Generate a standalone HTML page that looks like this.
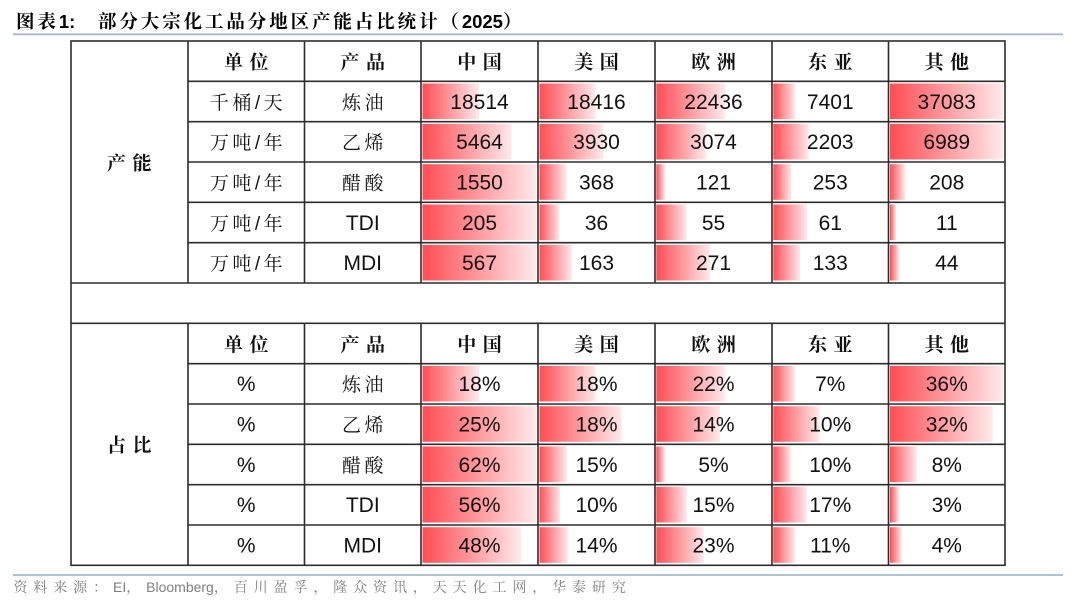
<!DOCTYPE html>
<html>
<head>
<meta charset="utf-8">
<style>
html,body{margin:0;padding:0;background:#fff;}
body{width:1080px;height:608px;overflow:hidden;}
svg{display:block;}
.t{font-family:"Liberation Sans","Noto Serif CJK SC",serif;font-weight:bold;font-size:18.5px;fill:#000;}
.h{font-family:"Liberation Sans","Noto Serif CJK SC",serif;font-weight:bold;font-size:19px;fill:#111;letter-spacing:6.5px;text-anchor:middle;}
.c{font-family:"Liberation Sans","Noto Serif CJK SC",serif;font-size:19px;fill:#111;letter-spacing:3.5px;text-anchor:middle;}
.n{font-family:"Liberation Sans",sans-serif;font-size:21px;fill:#111;text-anchor:middle;}
.f{font-family:"Liberation Sans","Noto Serif CJK SC",serif;font-size:14px;fill:#7f7f7f;}
.ln{stroke:#2d2d2d;stroke-width:1.6;fill:none;}
</style>
</head>
<body>
<svg width="1080" height="608" viewBox="0 0 1080 608" xmlns="http://www.w3.org/2000/svg">
<defs>
<linearGradient id="g" x1="0" y1="0" x2="1" y2="0">
<stop offset="0" stop-color="#ff4d54"/>
<stop offset="1" stop-color="#ffe9eb"/>
</linearGradient>
</defs>
<rect width="1080" height="608" fill="#fff"/>

<!-- title -->
<text class="t" x="16" y="28"><tspan style="letter-spacing:2.9px">图表</tspan><tspan>1:</tspan></text>
<text class="t" x="98" y="28"><tspan style="letter-spacing:2.9px">部分大宗化工品分地区产能占比统计（</tspan><tspan>2025</tspan><tspan>）</tspan></text>
<line x1="13" y1="34.3" x2="1063" y2="34.3" stroke="#a3b9d4" stroke-width="1.8"/>

<!-- bars capacity -->
<g fill="url(#g)">
<rect x="422.5" y="83.5" width="56.5" height="35.6"/>
<rect x="539.5" y="83.5" width="56.2" height="35.6"/>
<rect x="656.3" y="83.5" width="68.7" height="35.6"/>
<rect x="773.3" y="83.5" width="22.1" height="35.6"/>
<rect x="890" y="83.5" width="113" height="35.6"/>

<rect x="422.5" y="123.9" width="89" height="35.6"/>
<rect x="539.5" y="123.9" width="64" height="35.6"/>
<rect x="656.3" y="123.9" width="49.7" height="35.6"/>
<rect x="773.3" y="123.9" width="35.5" height="35.6"/>
<rect x="890" y="123.9" width="113" height="35.6"/>

<rect x="422.5" y="164.2" width="113.5" height="35.6"/>
<rect x="539.5" y="164.2" width="27" height="35.6"/>
<rect x="656.3" y="164.2" width="8.7" height="35.6"/>
<rect x="773.3" y="164.2" width="18" height="35.6"/>
<rect x="890" y="164.2" width="15.3" height="35.6"/>

<rect x="422.5" y="204.5" width="113.5" height="35.6"/>
<rect x="539.5" y="204.5" width="20" height="35.6"/>
<rect x="656.3" y="204.5" width="30.4" height="35.6"/>
<rect x="773.3" y="204.5" width="33.7" height="35.6"/>
<rect x="890" y="204.5" width="6" height="35.6"/>

<rect x="422.5" y="244.9" width="113.5" height="35.6"/>
<rect x="539.5" y="244.9" width="32.5" height="35.6"/>
<rect x="656.3" y="244.9" width="54" height="35.6"/>
<rect x="773.3" y="244.9" width="26.7" height="35.6"/>
<rect x="890" y="244.9" width="9" height="35.6"/>

<!-- share bars -->
<rect x="422.5" y="365.9" width="56.5" height="35.6"/>
<rect x="539.5" y="365.9" width="56.2" height="35.6"/>
<rect x="656.3" y="365.9" width="68.7" height="35.6"/>
<rect x="773.3" y="365.9" width="21.7" height="35.6"/>
<rect x="890" y="365.9" width="113" height="35.6"/>

<rect x="422.5" y="406.2" width="113.5" height="35.6"/>
<rect x="539.5" y="406.2" width="82.2" height="35.6"/>
<rect x="656.3" y="406.2" width="63.7" height="35.6"/>
<rect x="773.3" y="406.2" width="46" height="35.6"/>
<rect x="890" y="406.2" width="102.7" height="35.6"/>

<rect x="422.5" y="446.5" width="113.5" height="35.6"/>
<rect x="539.5" y="446.5" width="27.2" height="35.6"/>
<rect x="656.3" y="446.5" width="8.7" height="35.6"/>
<rect x="773.3" y="446.5" width="17.7" height="35.6"/>
<rect x="890" y="446.5" width="26.7" height="35.6"/>

<rect x="422.5" y="486.9" width="113.5" height="35.6"/>
<rect x="539.5" y="486.9" width="20.5" height="35.6"/>
<rect x="656.3" y="486.9" width="30.4" height="35.6"/>
<rect x="773.3" y="486.9" width="33.4" height="35.6"/>
<rect x="890" y="486.9" width="9" height="35.6"/>

<rect x="422.5" y="527.2" width="98.5" height="35.6"/>
<rect x="539.5" y="527.2" width="28.2" height="35.6"/>
<rect x="656.3" y="527.2" width="47.4" height="35.6"/>
<rect x="773.3" y="527.2" width="21.7" height="35.6"/>
<rect x="890" y="527.2" width="12" height="35.6"/>
</g>

<!-- grid lines -->
<g class="ln">
<rect x="71" y="41" width="934" height="524.3"/>
<line x1="71" y1="283" x2="1005" y2="283"/>
<line x1="71" y1="323.33" x2="1005" y2="323.33"/>
<line x1="188" y1="81.33" x2="1005" y2="81.33"/>
<line x1="188" y1="121.67" x2="1005" y2="121.67"/>
<line x1="188" y1="162" x2="1005" y2="162"/>
<line x1="188" y1="202.33" x2="1005" y2="202.33"/>
<line x1="188" y1="242.67" x2="1005" y2="242.67"/>
<line x1="188" y1="363.67" x2="1005" y2="363.67"/>
<line x1="188" y1="404" x2="1005" y2="404"/>
<line x1="188" y1="444.33" x2="1005" y2="444.33"/>
<line x1="188" y1="484.67" x2="1005" y2="484.67"/>
<line x1="188" y1="525" x2="1005" y2="525"/>
<path d="M188 41V283M304.5 41V283M421 41V283M538 41V283M655 41V283M772 41V283M888.5 41V283"/>
<path d="M188 323.33V565.3M304.5 323.33V565.3M421 323.33V565.3M538 323.33V565.3M655 323.33V565.3M772 323.33V565.3M888.5 323.33V565.3"/>
</g>

<!-- headers -->
<g class="h">
<text x="132.5" y="169.3">产能</text>
<text x="132.5" y="451.6">占比</text>
<text x="249.5" y="68.3">单位</text>
<text x="366" y="68.3">产品</text>
<text x="482.7" y="68.3">中国</text>
<text x="599.7" y="68.3">美国</text>
<text x="716.7" y="68.3">欧洲</text>
<text x="833.5" y="68.3">东亚</text>
<text x="950" y="68.3">其他</text>
<text x="249.5" y="350.8">单位</text>
<text x="366" y="350.8">产品</text>
<text x="482.7" y="350.8">中国</text>
<text x="599.7" y="350.8">美国</text>
<text x="716.7" y="350.8">欧洲</text>
<text x="833.5" y="350.8">东亚</text>
<text x="950" y="350.8">其他</text>
</g>

<!-- units/products -->
<g class="c">
<text x="248" y="108.9">千桶/天</text>
<text x="248" y="149.2">万吨/年</text>
<text x="248" y="189.5">万吨/年</text>
<text x="248" y="229.9">万吨/年</text>
<text x="248" y="270.2">万吨/年</text>
<text x="364.5" y="108.9">炼油</text>
<text x="364.5" y="149.2">乙烯</text>
<text x="364.5" y="189.5">醋酸</text>
<text x="364.5" y="391.2">炼油</text>
<text x="364.5" y="431.5">乙烯</text>
<text x="364.5" y="471.9">醋酸</text>
</g>
<g class="n">
<text x="362.75" y="229.9">TDI</text>
<text x="362.75" y="270.2">MDI</text>
<text x="362.75" y="512.2">TDI</text>
<text x="362.75" y="552.5">MDI</text>
<text x="246.25" y="391.2">%</text>
<text x="246.25" y="431.5">%</text>
<text x="246.25" y="471.9">%</text>
<text x="246.25" y="512.2">%</text>
<text x="246.25" y="552.5">%</text>

<text x="479.5" y="108.9">18514</text>
<text x="596.5" y="108.9">18416</text>
<text x="713.5" y="108.9">22436</text>
<text x="830.25" y="108.9">7401</text>
<text x="946.75" y="108.9">37083</text>

<text x="479.5" y="149.2">5464</text>
<text x="596.5" y="149.2">3930</text>
<text x="713.5" y="149.2">3074</text>
<text x="830.25" y="149.2">2203</text>
<text x="946.75" y="149.2">6989</text>

<text x="479.5" y="189.5">1550</text>
<text x="596.5" y="189.5">368</text>
<text x="713.5" y="189.5">121</text>
<text x="830.25" y="189.5">253</text>
<text x="946.75" y="189.5">208</text>

<text x="479.5" y="229.9">205</text>
<text x="596.5" y="229.9">36</text>
<text x="713.5" y="229.9">55</text>
<text x="830.25" y="229.9">61</text>
<text x="946.75" y="229.9">11</text>

<text x="479.5" y="270.2">567</text>
<text x="596.5" y="270.2">163</text>
<text x="713.5" y="270.2">271</text>
<text x="830.25" y="270.2">133</text>
<text x="946.75" y="270.2">44</text>

<text x="479.5" y="391.2">18%</text>
<text x="596.5" y="391.2">18%</text>
<text x="713.5" y="391.2">22%</text>
<text x="830.25" y="391.2">7%</text>
<text x="946.75" y="391.2">36%</text>

<text x="479.5" y="431.5">25%</text>
<text x="596.5" y="431.5">18%</text>
<text x="713.5" y="431.5">14%</text>
<text x="830.25" y="431.5">10%</text>
<text x="946.75" y="431.5">32%</text>

<text x="479.5" y="471.9">62%</text>
<text x="596.5" y="471.9">15%</text>
<text x="713.5" y="471.9">5%</text>
<text x="830.25" y="471.9">10%</text>
<text x="946.75" y="471.9">8%</text>

<text x="479.5" y="512.2">56%</text>
<text x="596.5" y="512.2">10%</text>
<text x="713.5" y="512.2">15%</text>
<text x="830.25" y="512.2">17%</text>
<text x="946.75" y="512.2">3%</text>

<text x="479.5" y="552.5">48%</text>
<text x="596.5" y="552.5">14%</text>
<text x="713.5" y="552.5">23%</text>
<text x="830.25" y="552.5">11%</text>
<text x="946.75" y="552.5">4%</text>
</g>

<!-- footer -->
<line x1="13" y1="575" x2="1063" y2="575" stroke="#a3b9d4" stroke-width="1.8"/>
<text class="f" x="13.5" y="592"><tspan style="letter-spacing:5.9px">资料来源：</tspan><tspan>EI</tspan><tspan style="letter-spacing:5.9px">，</tspan><tspan>Bloomberg</tspan><tspan style="letter-spacing:5.9px">，百川盈孚，隆众资讯，天天化工网，华泰研究</tspan></text>
</svg>
</body>
</html>
